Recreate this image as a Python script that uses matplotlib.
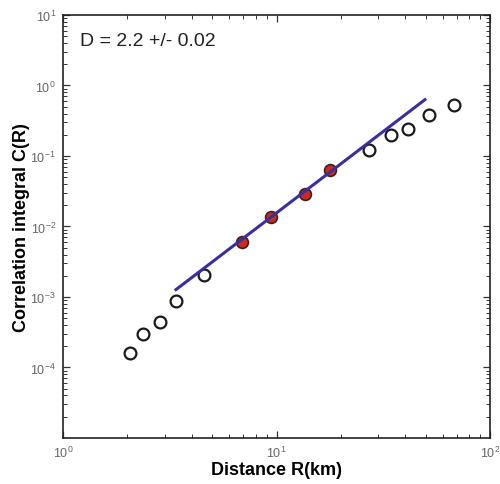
import matplotlib.pyplot as plt
from matplotlib.ticker import LogLocator

plt.rcParams['font.family'] = ['Liberation Sans', 'DejaVu Sans']

# open circles: points not used in the fit
open_r = [2.06, 2.38, 2.85, 3.38, 4.57, 27.2, 34.3, 41.3, 52.0, 67.8]
open_c = [1.59e-4, 3.0e-4, 4.47e-4, 8.7e-4, 2.07e-3, 0.123, 0.199, 0.239, 0.386, 0.528]

# filled points used in the fit
fit_pts_r = [6.91, 9.39, 13.6, 17.9]
fit_pts_c = [5.97e-3, 1.36e-2, 2.89e-2, 6.32e-2]

# fitted line end points
line_r = [3.38, 49.6]
line_c = [1.27e-3, 0.63]

x_ticks = [1, 10, 100]
y_ticks = [1e-4, 1e-3, 1e-2, 1e-1, 1, 10]
label_text = "D = 2.2 +/- 0.02"

fig = plt.figure(figsize=(5, 4.85), dpi=100)
ax = fig.add_axes([0.126, 0.095, 0.854, 0.872])

ax.plot(open_r, open_c, 'o', ms=8.5, mfc='white', mec='#1a1a1a', mew=1.6, zorder=3)
ax.plot(fit_pts_r, fit_pts_c, 'o', ms=8.5, mfc='#cc2a1a', mec='#3a2020', mew=1.2, zorder=3)
ax.plot(line_r, line_c, '-', color='#3b2f9e', lw=2.2, zorder=4)

ax.set_xscale('log')
ax.set_yscale('log')
ax.set_xlim(1, 100)
ax.set_ylim(1e-5, 10)
ax.set_xticks(x_ticks)
ax.set_yticks(y_ticks)
ax.xaxis.set_minor_locator(LogLocator(base=10, subs=range(2, 10), numticks=20))
ax.yaxis.set_minor_locator(LogLocator(base=10, subs=range(2, 10), numticks=20))

ax.tick_params(which='both', direction='in', top=True, right=True,
               colors='#333333', labelcolor='#666666', labelsize=9)
ax.tick_params(which='major', length=5, width=0.9, pad=5)
ax.tick_params(which='minor', length=3, width=0.7)
for s in ax.spines.values():
    s.set_linewidth(1.2)
    s.set_color('#222222')

ax.set_xlabel("Distance R(km)", fontsize=13, fontweight='bold', labelpad=1)
ax.set_ylabel("Correlation integral C(R)", fontsize=13, fontweight='bold', labelpad=0)
ax.text(0.04, 0.94, label_text, transform=ax.transAxes, fontsize=14, va='center', color='#222222')

fig.savefig('out.png')
